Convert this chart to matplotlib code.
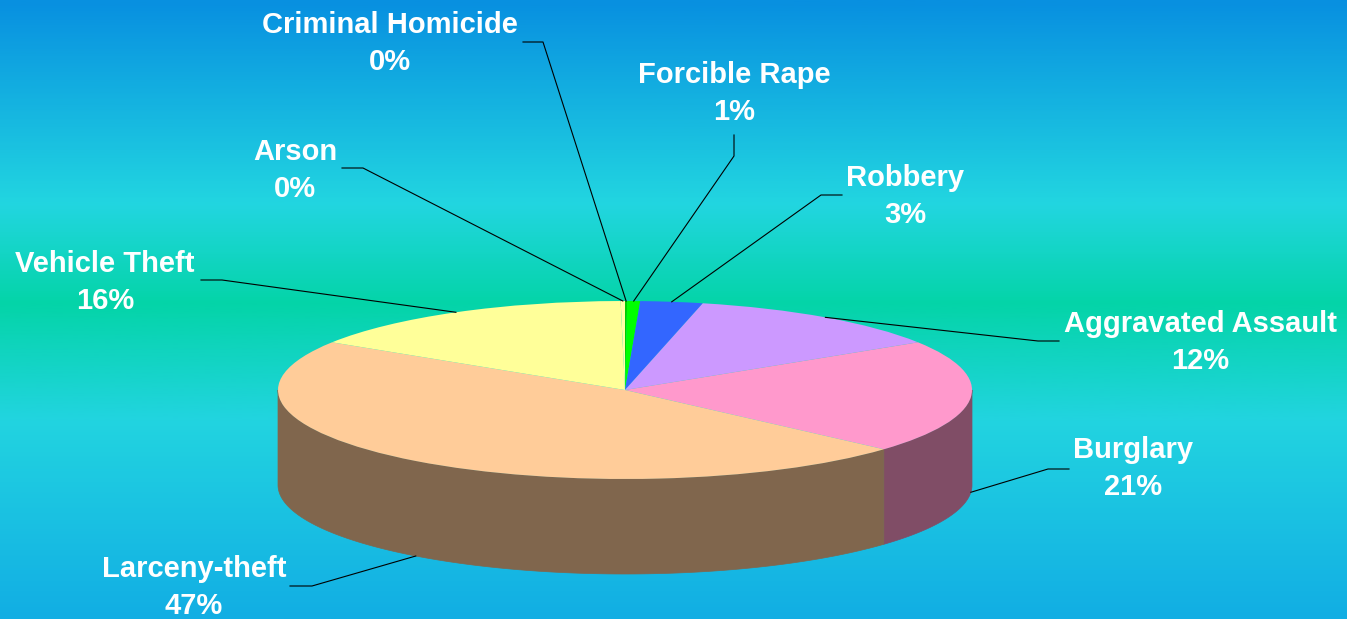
import numpy as np
import matplotlib.pyplot as plt
from matplotlib.colors import LinearSegmentedColormap, to_rgb

# data (clockwise from 12 o'clock)
crimes = ['Criminal Homicide', 'Forcible Rape', 'Robbery', 'Aggravated Assault',
          'Burglary', 'Larceny-theft', 'Vehicle Theft', 'Arson']
shares = [0.1, 0.6, 2.9, 12.4, 20.6, 47.4, 15.8, 0.2]
colors = ['#00cc00', '#00ff00', '#3366ff', '#cc99ff',
          '#ff99cc', '#ffcc99', '#ffff99', '#ffffa8']

# label placement in pixels: (center x, baseline y of name)
label_pos = [(390, 33), (734, 83), (905, 186), (1200, 332),
             (1133, 458), (194, 577), (105, 272), (295, 160)]
# leader line: text end point, elbow point
leaders = [[(523, 42), (543, 42)], [(734, 135), (734, 156)],
           [(842, 195), (821, 195)], [(1059, 341), (1038, 341)],
           [(1069, 469), (1048, 469)], [(290, 586), (312, 586)],
           [(201, 280), (222, 280)], [(342, 168), (363, 168)]]
on_side = [False, False, False, False, True, True, False, False]

W, H = 1347, 619
cx, cy, rx, ry, depth = 625, 390, 347, 89, 95  # pie geometry in pixels


def to_data(px, py):
    return (px - cx) / rx, (cy - py) / ry


fig = plt.figure(figsize=(W / 100, H / 100), dpi=100)
ax = fig.add_axes([0, 0, 1, 1])
x0, y1 = to_data(0, 0)
x1, y0 = to_data(W, H)

# background gradient
bg = LinearSegmentedColormap.from_list('bg', [(0, '#0890e0'), (0.33, '#22d6e0'),
                                              (0.49, '#04d4a8'), (0.68, '#22d4e0'),
                                              (1, '#12aee4')])
ax.imshow(np.linspace(0, 1, 400).reshape(-1, 1), cmap=bg,
          extent=(x0, x1, y0, y1), aspect='auto', zorder=0)

# top face
ax.pie(shares, colors=colors, startangle=90, counterclock=False, radius=1,
       wedgeprops=dict(linewidth=0, zorder=2))
ax.set_aspect('auto')
ax.set_xlim(x0, x1)
ax.set_ylim(y0, y1)
ax.axis('off')

# side walls (front half only)
d = depth / ry
cum = np.concatenate([[0], np.cumsum(shares)]) / sum(shares)
for i in range(len(shares)):
    a1 = 90 - 360 * cum[i]
    a2 = 90 - 360 * cum[i + 1]
    lo, hi = max(a2, -180), min(a1, 0)
    if hi <= lo:
        continue
    t = np.radians(np.linspace(hi, lo, 120))
    xs = np.concatenate([np.cos(t), np.cos(t[::-1])])
    ys = np.concatenate([np.sin(t), np.sin(t[::-1]) - d])
    side = np.array(to_rgb(colors[i])) * 0.5
    ax.fill(xs, ys, color=side, lw=0.5, zorder=1)

# labels and leader lines
for i, name in enumerate(crimes):
    mid = np.radians(90 - 180 * (cum[i] + cum[i + 1]))
    ax_x, ax_y = np.cos(mid), np.sin(mid)
    if on_side[i]:
        ax_y -= d
    p1 = to_data(*leaders[i][0])
    p2 = to_data(*leaders[i][1])
    ax.plot([p1[0], p2[0], ax_x], [p1[1], p2[1], ax_y], color='black', lw=0.8, zorder=3)

    lx, ly = label_pos[i]
    for k, txt in enumerate([name, f'{shares[i]:.0f}%']):
        tx, ty = to_data(lx, ly + 37 * k)
        ax.text(tx, ty, txt, ha='center', va='baseline', color='white',
                fontsize=21, fontweight='bold', family='Liberation Sans', zorder=4)

plt.savefig('out.png', dpi=100)
